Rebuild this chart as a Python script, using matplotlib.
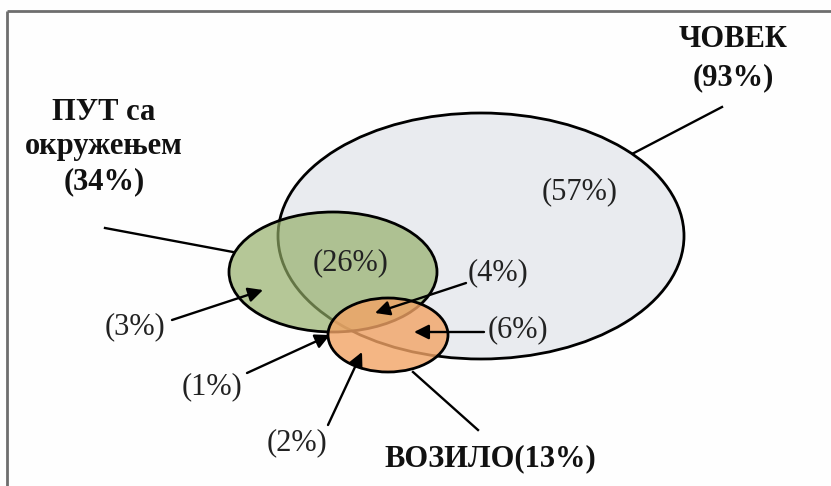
import matplotlib
matplotlib.use("Agg")
import matplotlib.pyplot as plt
from matplotlib.patches import Ellipse

# sets and their totals (%)
set_names = ["ЧОВЕК", "ПУТ са\nокружењем", "ВОЗИЛО"]
set_totals = [93, 34, 13]
# region shares (%)
region_names = ["human_only", "human_road", "road_only", "road_vehicle", "vehicle_only",
                "all_three", "human_vehicle"]
region_values = [57, 26, 3, 1, 2, 4, 6]

# layout, in pixel coordinates of the 831x486 canvas
ell_center = [(481, 236), (333, 272), (388, 335)]
ell_size = [(406, 246), (208, 120), (120, 74)]
ell_fill = ["#e9ebef", "#93ad66", "#f2a466"]
ell_alpha = [1.0, 0.68, 0.8]

# where the region labels sit and where their arrows point (None = no arrow)
label_pos = [(580, 192), (351, 263), (135, 327), (212, 387), (297, 443), (498, 273), (518, 330)]
arrow_from = [None, None, (172, 320), (247, 373), (328, 425), (466, 283), (484, 332)]
arrow_to = [None, None, (263, 290), (330, 335), (362, 352), (375, 313), (414, 332)]

# set name labels: x centre and one baseline per line; leader lines
name_x = [733, 104, 490]
name_baselines = [[47, 85], [120, 154, 189], [466]]
leader = [((722, 107), (632, 154)), ((105, 228), (233, 252)), ((478, 430), (413, 372))]

SERIF = ["Liberation Serif", "DejaVu Serif"]
FS = 22


def main():
    fig = plt.figure(figsize=(8.31, 4.86), dpi=100)
    fig.patch.set_facecolor("#fefefe")
    ax = fig.add_axes([0, 0, 1, 1])
    ax.set_xlim(0, 831)
    ax.set_ylim(486, 0)
    ax.axis("off")

    # frame (top and left edges only visible)
    ax.plot([7, 831], [11, 11], color="#6e6e6e", lw=2, solid_capstyle="butt")
    ax.plot([7, 7], [11, 486], color="#6e6e6e", lw=2, solid_capstyle="butt")

    # leader lines under the ellipses
    for (x0, y0), (x1, y1) in leader:
        ax.plot([x0, x1], [y0, y1], color="black", lw=1.7, zorder=1)

    # ellipses: fill then outline, later sets drawn translucent over earlier outlines
    for i in range(3):
        cx, cy = ell_center[i]
        w, h = ell_size[i]
        ax.add_patch(Ellipse((cx, cy), w, h, facecolor=ell_fill[i], alpha=ell_alpha[i],
                             edgecolor="none", zorder=2 + 2 * i))
        ax.add_patch(Ellipse((cx, cy), w, h, facecolor="none", edgecolor="black",
                             lw=2.0, zorder=1.5 + 2 * i + 0.9))

    # set names
    for i in range(3):
        if i == 2:
            lines = [f"{set_names[i]}({set_totals[i]}%)"]
        else:
            lines = set_names[i].split("\n") + [f"({set_totals[i]}%)"]
        for line, yb in zip(lines, name_baselines[i]):
            ax.text(name_x[i], yb, line, ha="center", va="baseline",
                    fontsize=FS, family=SERIF, fontweight="bold", color="#111111",
                    zorder=10)

    # region labels and arrows
    for i, v in enumerate(region_values):
        ax.text(label_pos[i][0], label_pos[i][1], f"({v}%)", ha="center", va="center",
                fontsize=FS, family=SERIF, color="#222222", zorder=10)
        if arrow_from[i] is not None:
            ax.annotate("", xy=arrow_to[i], xytext=arrow_from[i],
                        arrowprops=dict(arrowstyle="-|>", color="black", lw=1.7,
                                        mutation_scale=22, shrinkA=0, shrinkB=0),
                        zorder=11)

    fig.savefig("out.png", dpi=100, facecolor=fig.get_facecolor())
    plt.close(fig)


if __name__ == "__main__":
    main()
